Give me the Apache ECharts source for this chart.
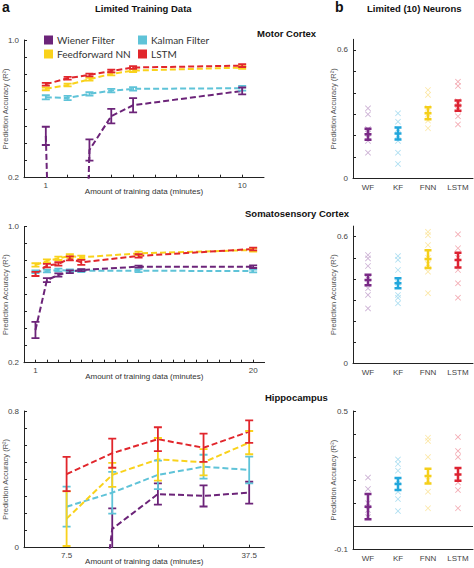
<!DOCTYPE html>
<html><head><meta charset="utf-8">
<script src="https://cdn.jsdelivr.net/npm/echarts@6/dist/echarts.min.js"></script>
<style>html,body{margin:0;padding:0;background:#fff}#c{width:474px;height:568px}</style>
</head><body><div id="c"></div>
<script>
// ---------- data: panel a (limited training data) ----------
const motorX = [1, 2, 3, 4, 5, 10];
const motorWF = [0.443, -4, 0.361, 0.558, 0.621, 0.704];
const motorWFErr = [0.053, 0, 0.062, 0.042, 0.041, 0.02];
const motorKF = [0.667, 0.663, 0.687, 0.706, 0.716, 0.72];
const motorKFErr = [0.012, 0.012, 0.01, 0.01, 0.01, 0.014];
const motorFNN = [0.716, 0.739, 0.772, 0.803, 0.822, 0.84];
const motorFNNErr = [0.008, 0.008, 0.008, 0.008, 0.008, 0.008];
const motorLSTM = [0.743, 0.778, 0.797, 0.82, 0.84, 0.851];
const motorLSTMErr = [0.008, 0.008, 0.008, 0.008, 0.008, 0.008];

const somaX = [1, 2, 3, 4, 5, 10, 20];
const somaWF = [0.392, 0.686, 0.716, 0.735, 0.745, 0.765, 0.765];
const somaWFErr = [0.048, 0.012, 0.01, 0.008, 0.006, 0.006, 0.008];
const somaKF = [0.735, 0.739, 0.745, 0.741, 0.741, 0.741, 0.739];
const somaKFErr = [0.008, 0.008, 0.008, 0.008, 0.008, 0.008, 0.008];
const somaFNN = [0.775, 0.798, 0.814, 0.828, 0.82, 0.843, 0.863];
const somaFNNErr = [0.01, 0.01, 0.01, 0.01, 0.01, 0.01, 0.01];
const somaLSTM = [0.722, 0.771, 0.781, 0.814, 0.79, 0.828, 0.869];
const somaLSTMErr = [0.012, 0.01, 0.01, 0.012, 0.015, 0.01, 0.008];

const hipX = [7.5, 15, 22.5, 30, 37.5];
const hipWF = [-2, 0.11, 0.314, 0.303, 0.322];
const hipWFErr = [0, 0.12, 0.062, 0.062, 0.064];
const hipKF = [0.24, 0.322, 0.426, 0.474, 0.455];
const hipKFErr = [0.117, 0.122, 0.083, 0.07, 0.078];
const hipFNN = [0.17, 0.426, 0.517, 0.5, 0.615];
const hipFNNErr = [0.16, 0.07, 0.125, 0.077, 0.068];
const hipLSTM = [0.431, 0.553, 0.635, 0.585, 0.679];
const hipLSTMErr = [0.1, 0.085, 0.07, 0.083, 0.066];

// ---------- data: panel b (limited neurons) ----------
const methods = ['WF', 'KF', 'FNN', 'LSTM'];
const motorMean = [0.206, 0.21, 0.304, 0.34];
const motorMeanErr = [0.026, 0.028, 0.028, 0.024];
const motorPtsWF = [0.327, 0.299, 0.23, 0.21, 0.19, 0.175, 0.12];
const motorPtsKF = [0.304, 0.265, 0.23, 0.2, 0.175, 0.12, 0.067];
const motorPtsFNN = [0.413, 0.39, 0.33, 0.3, 0.27, 0.234];
const motorPtsLSTM = [0.452, 0.432, 0.36, 0.32, 0.29, 0.252];

const somaMean = [0.395, 0.379, 0.494, 0.489];
const somaMeanErr = [0.025, 0.024, 0.042, 0.035];
const somaPtsWF = [0.513, 0.497, 0.461, 0.4, 0.355, 0.324, 0.26];
const somaPtsKF = [0.508, 0.49, 0.442, 0.38, 0.324, 0.31, 0.284];
const somaPtsFNN = [0.623, 0.607, 0.56, 0.5, 0.47, 0.434, 0.332];
const somaPtsLSTM = [0.611, 0.545, 0.5, 0.442, 0.379, 0.311];

const hipMean = [0.085, 0.183, 0.218, 0.225];
const hipMeanErr = [0.055, 0.026, 0.032, 0.028];
const hipPtsWF = [0.211, 0.162, 0.1, 0.07, 0.04];
const hipPtsKF = [0.29, 0.27, 0.241, 0.2, 0.15, 0.118, 0.066];
const hipPtsFNN = [0.384, 0.37, 0.3, 0.2, 0.15, 0.078];
const hipPtsLSTM = [0.387, 0.327, 0.3, 0.19, 0.157, 0.078];

// ---------- tick labels ----------
const motorXTicks = [1, 2, 3, 4, 5, 6, 7, 8, 9, 10];
const motorXLabels = [1, 10];
const somaXTicks = [1,2,3,4,5,6,7,8,9,10,11,12,13,14,15,16,17,18,19,20];
const somaXLabels = [1, 20];
const hipXTicks = [7.5, 15, 22.5, 30, 37.5];
const hipXLabels = [7.5, 37.5];
const leftYTicks = [0.2, 0.3, 0.4, 0.5, 0.6, 0.7, 0.8, 0.9, 1.0];
const leftYLabels = [0.2, 1.0];
const hipYTicks = [0, 0.1, 0.2, 0.3, 0.4, 0.5, 0.6, 0.7, 0.8];
const hipYLabels = [0, 0.8];
const rightYTicks = [0, 0.1, 0.2, 0.3, 0.4, 0.5, 0.6];
const rightYLabels = [0, 0.6];
const hipRYTicks = [-0.1, 0, 0.1, 0.2, 0.3, 0.4, 0.5];
const hipRYLabels = [-0.1, 0.5];

// ---------- styles ----------
const C = { WF: '#6c2479', KF: '#5fc3d8', FNN: '#f9d21c', LSTM: '#e1262c' };
const CB = { WF: '#7a2a86', KF: '#22a7dc', FNN: '#f5cf1a', LSTM: '#dd2332' };
const CX = { WF: '#c6a9cf', KF: '#a6dcef', FNN: '#fbe49c', LSTM: '#f2a3ac' };
const NAMES = { WF: 'Wiener Filter', KF: 'Kalman Filter', FNN: 'Feedforward NN', LSTM: 'LSTM' };
const FONT = "'Liberation Sans', Arial, sans-serif";
const AX = '#222';
const CROSS = 'path://M1,0L5,4L9,0L10,1L6,5L10,9L9,10L5,6L1,10L0,9L4,5L0,1Z';

function fmt1(v) { return (Math.round(v * 10) / 10).toFixed(1); }
function fmtPlain(v) { return String(Math.round(v * 10) / 10); }

function errRender(color, half, lw, mid) {
  return function (params, api) {
    const x = api.value(0), y = api.value(1), e = api.value(2);
    if (!(e > 0)) return { type: 'group', children: [] };
    const t = api.coord([x, y + e]), b = api.coord([x, y - e]), c = api.coord([x, y]);
    const st = { stroke: color, lineWidth: lw, fill: null };
    const ch = [
      { type: 'line', shape: { x1: t[0], y1: t[1], x2: b[0], y2: b[1] }, style: st },
      { type: 'line', shape: { x1: t[0] - half, y1: t[1], x2: t[0] + half, y2: t[1] }, style: st },
      { type: 'line', shape: { x1: b[0] - half, y1: b[1], x2: b[0] + half, y2: b[1] }, style: st }
    ];
    if (mid) ch.push({ type: 'line', shape: { x1: c[0] - half, y1: c[1], x2: c[0] + half, y2: c[1] }, style: st });
    return { type: 'group', children: ch };
  };
}

function leftSeries(gi, key, xs, ys, es, legendName) {
  const name = legendName ? NAMES[key] : ('g' + gi + key);
  return [
    { name, type: 'line', xAxisIndex: gi, yAxisIndex: gi, data: xs.map((x, i) => [x, ys[i]]),
      symbol: 'none', showSymbol: false, clip: true, silent: true, z: 2,
      lineStyle: { color: C[key], width: 2, type: [6, 3] }, itemStyle: { color: C[key] } },
    { name, type: 'custom', xAxisIndex: gi, yAxisIndex: gi, clip: true, silent: true, z: 3,
      data: xs.map((x, i) => [x, ys[i], es[i]]), renderItem: errRender(C[key], 4, 1.8, false),
      itemStyle: { color: C[key] } }
  ];
}

function rightSeries(gi, means, errs, pts) {
  const out = [];
  methods.forEach((m, k) => {
    out.push({ name: 'r' + gi + m, type: 'scatter', xAxisIndex: gi, yAxisIndex: gi, silent: true, z: 2,
      symbol: CROSS, symbolSize: 6, itemStyle: { color: CX[m], opacity: 0.9 },
      data: pts[k].map(v => [k, v]) });
  });
  methods.forEach((m, k) => {
    out.push({ name: 'rm' + gi + m, type: 'custom', xAxisIndex: gi, yAxisIndex: gi, clip: true, silent: true, z: 3,
      data: [[k, means[k], errs[k]]], renderItem: errRender(CB[m], 3.5, 2.5, true), itemStyle: { color: CB[m] } });
  });
  return out;
}

function leftXAxis(gi, min, max, ticks, labels) {
  return { gridIndex: gi, type: 'value', min, max,
    axisLine: { show: true, onZero: false, lineStyle: { color: AX, width: 1 } },
    axisTick: { show: true, inside: true, length: 3, customValues: ticks, lineStyle: { color: AX } },
    axisLabel: { show: true, customValues: labels, formatter: fmtPlain, fontSize: 8, color: '#444', margin: 4, fontFamily: FONT },
    splitLine: { show: false },
    name: 'Amount of training data (minutes)', nameLocation: 'middle', nameGap: 10, nameMoveOverlap: false,
    nameTextStyle: { fontSize: 8, color: '#333', fontFamily: FONT } };
}
function yAxisCfg(gi, min, max, ticks, labels, formatter, gap) {
  return { gridIndex: gi, type: 'value', min, max,
    axisLine: { show: true, onZero: false, lineStyle: { color: AX, width: 1 } },
    axisTick: { show: true, inside: true, length: 3, customValues: ticks, lineStyle: { color: AX } },
    axisLabel: { show: true, customValues: labels, formatter, fontSize: 8, color: '#444', margin: 5, fontFamily: FONT },
    splitLine: { show: false },
    name: 'Prediction Accuracy (R²)', nameLocation: 'middle', nameGap: gap, nameRotate: 90, nameMoveOverlap: false,
    nameTextStyle: { fontSize: 7.5, color: '#555', fontFamily: FONT } };
}
function catAxis(gi) {
  return { gridIndex: gi, type: 'category', data: methods, boundaryGap: true,
    axisLine: { show: true, onZero: false, lineStyle: { color: AX, width: 1 } },
    axisTick: { show: false },
    axisLabel: { fontSize: 8, color: '#444', margin: 5, fontFamily: FONT },
    splitLine: { show: false } };
}

const grids = [
  { left: 24, top: 40, width: 240, height: 137.7 },
  { left: 24, top: 226.7, width: 240.6, height: 136 },
  { left: 24, top: 411, width: 240.4, height: 136.7 },
  { left: 353, top: 39.3, width: 120, height: 139 },
  { left: 353, top: 226.1, width: 120, height: 137.2 },
  { left: 353, top: 411, width: 120, height: 138.3 }
].map(g => Object.assign({ containLabel: false, outerBoundsMode: 'none' }, g));

const series = [].concat(
  leftSeries(0, 'KF', motorX, motorKF, motorKFErr, true),
  leftSeries(0, 'FNN', motorX, motorFNN, motorFNNErr, true),
  leftSeries(0, 'LSTM', motorX, motorLSTM, motorLSTMErr, true),
  leftSeries(0, 'WF', motorX, motorWF, motorWFErr, true),
  leftSeries(1, 'KF', somaX, somaKF, somaKFErr),
  leftSeries(1, 'WF', somaX, somaWF, somaWFErr),
  leftSeries(1, 'FNN', somaX, somaFNN, somaFNNErr),
  leftSeries(1, 'LSTM', somaX, somaLSTM, somaLSTMErr),
  leftSeries(2, 'WF', hipX, hipWF, hipWFErr),
  leftSeries(2, 'KF', hipX, hipKF, hipKFErr),
  leftSeries(2, 'FNN', hipX, hipFNN, hipFNNErr),
  leftSeries(2, 'LSTM', hipX, hipLSTM, hipLSTMErr),
  rightSeries(3, motorMean, motorMeanErr, [motorPtsWF, motorPtsKF, motorPtsFNN, motorPtsLSTM]),
  rightSeries(4, somaMean, somaMeanErr, [somaPtsWF, somaPtsKF, somaPtsFNN, somaPtsLSTM]),
  rightSeries(5, hipMean, hipMeanErr, [hipPtsWF, hipPtsKF, hipPtsFNN, hipPtsLSTM])
);
// zero reference line in hippocampus neurons panel
series.push({ name: 'zero', type: 'line', xAxisIndex: 5, yAxisIndex: 5, data: [], silent: true,
  markLine: { silent: true, symbol: 'none', label: { show: false }, animation: false,
    lineStyle: { color: '#222', width: 1.2, type: 'solid' }, data: [{ yAxis: 0 }] } });

const titleStyle = (size) => ({ fontSize: size, fontWeight: 'bold', color: '#111', fontFamily: FONT });
const option = {
  animation: false,
  backgroundColor: '#fff',
  textStyle: { fontFamily: FONT },
  title: [
    { text: 'a', left: 2, top: 0, padding: 0, textStyle: titleStyle(14) },
    { text: 'Limited Training Data', left: 95, top: 3, padding: 0, textStyle: titleStyle(9.5) },
    { text: 'b', left: 335, top: 0, padding: 0, textStyle: titleStyle(14) },
    { text: 'Limited (10) Neurons', left: 367, top: 3, padding: 0, textStyle: titleStyle(9.5) },
    { text: 'Motor Cortex', left: 257, top: 28, padding: 0, textStyle: titleStyle(9.5) },
    { text: 'Somatosensory Cortex', left: 245, top: 208, padding: 0, textStyle: titleStyle(9.5) },
    { text: 'Hippocampus', left: 265, top: 392, padding: 0, textStyle: titleStyle(9.5) }
  ],
  legend: [
    { left: 44, top: 35, orient: 'vertical', itemGap: 4, itemWidth: 9, itemHeight: 9, icon: 'rect', padding: 0,
      selectedMode: false, data: [NAMES.WF, NAMES.FNN],
      itemStyle: { borderWidth: 0 }, lineStyle: { width: 0 },
      textStyle: { fontSize: 10, color: '#333', fontFamily: 'Lato, sans-serif', padding: [0, 0, 0, -1] } },
    { left: 138, top: 35, orient: 'vertical', itemGap: 4, itemWidth: 9, itemHeight: 9, icon: 'rect', padding: 0,
      selectedMode: false, data: [NAMES.KF, NAMES.LSTM],
      itemStyle: { borderWidth: 0 }, lineStyle: { width: 0 },
      textStyle: { fontSize: 10, color: '#333', fontFamily: 'Lato, sans-serif', padding: [0, 0, 0, -1] } }
  ],
  grid: grids,
  xAxis: [
    leftXAxis(0, 0, 11, motorXTicks, motorXLabels),
    leftXAxis(1, 0, 21, somaXTicks, somaXLabels),
    leftXAxis(2, 0.5, 40, hipXTicks, hipXLabels),
    catAxis(3), catAxis(4), catAxis(5)
  ],
  yAxis: [
    yAxisCfg(0, 0.2, 1.0, leftYTicks, leftYLabels, fmt1, 15),
    yAxisCfg(1, 0.2, 1.0, leftYTicks, leftYLabels, fmt1, 15),
    yAxisCfg(2, 0, 0.8, hipYTicks, hipYLabels, fmtPlain, 15),
    yAxisCfg(3, 0, 0.65, rightYTicks, rightYLabels, fmtPlain, 16),
    yAxisCfg(4, 0, 0.65, rightYTicks, rightYLabels, fmtPlain, 16),
    yAxisCfg(5, -0.1, 0.5, hipRYTicks, hipRYLabels, fmtPlain, 16)
  ],
  series
};
const chart = echarts.init(document.getElementById('c'), null, { renderer: 'svg', width: 474, height: 568 });
chart.setOption(option);
</script>
</body></html>
